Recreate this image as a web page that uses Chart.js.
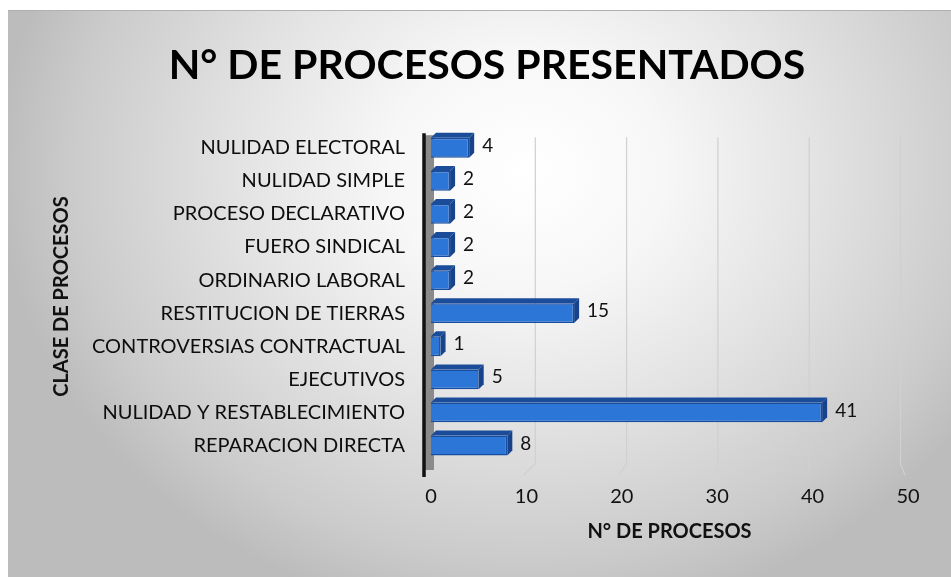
<!DOCTYPE html>
<html>
<head>
<meta charset="utf-8">
<script src="https://cdn.jsdelivr.net/npm/chart.js@4.4.1/dist/chart.umd.min.js"></script>
<style>
  html, body { margin: 0; padding: 0; background: #fff; }
  #marco {
    position: absolute; left: 8px; top: 10px; width: 943px; height: 567px;
    border-top: 1px solid #b0b0b0;
    background: radial-gradient(ellipse 56% 80% at 55% 28%, #ffffff 0%, #f7f7f7 26%, #e2e2e2 56%, #cbcbcb 86%, #bcbcbc 100%);
  }
  canvas { display: block; }
</style>
</head>
<body>
<div id="marco"><canvas id="graficoProcesos" width="943" height="566"></canvas></div>
<script>
const categorias = [
  'NULIDAD ELECTORAL',
  'NULIDAD SIMPLE',
  'PROCESO DECLARATIVO',
  'FUERO SINDICAL',
  'ORDINARIO LABORAL',
  'RESTITUCION DE TIERRAS',
  'CONTROVERSIAS CONTRACTUAL',
  'EJECUTIVOS',
  'NULIDAD Y RESTABLECIMIENTO',
  'REPARACION DIRECTA'
];
const procesos = [4, 2, 2, 2, 2, 15, 1, 5, 41, 8];
const ticksX = [0, 10, 20, 30, 40, 50];

const FUENTE = "Lato, 'Open Sans', sans-serif";
const PROF = 5; // profundidad del efecto 3D

// pared lateral gris, eje vertical negro y rejilla del fondo
const paredPlugin = {
  id: 'pared',
  beforeDatasetsDraw(chart) {
    const { ctx, chartArea: a, scales: { x } } = chart;
    const x0 = x.getPixelForValue(0);
    ctx.save();
    ctx.strokeStyle = '#d0d0d0';
    ctx.lineWidth = 1.2;
    ticksX.slice(1).forEach(v => {
      const frente = x.getPixelForValue(v);
      const fondo = x0 + 13 + (frente - x0) * 0.957;
      ctx.beginPath();
      ctx.moveTo(fondo, a.top + 6);
      ctx.lineTo(fondo, a.bottom + 2);
      ctx.lineTo(frente - 3, a.bottom + 13);
      ctx.stroke();
    });
    ctx.fillStyle = '#8a8a8a';
    ctx.fillRect(x0 - 7, a.top + 4, 10, a.bottom - a.top + 4);
    ctx.strokeStyle = '#111';
    ctx.lineWidth = 3.5;
    ctx.beginPath();
    ctx.moveTo(x0 - 7, a.top + 2);
    ctx.lineTo(x0 - 7, a.bottom + 15);
    ctx.stroke();
    ctx.restore();
  }
};

// caras superior y lateral de cada barra, y su valor
const barras3dPlugin = {
  id: 'barras3d',
  afterDatasetsDraw(chart) {
    const { ctx } = chart;
    const meta = chart.getDatasetMeta(0);
    ctx.save();
    meta.data.forEach((bar, i) => {
      const { x, y, base, height } = bar.getProps(['x', 'y', 'base', 'height'], true);
      const arriba = y - height / 2;
      const abajo = y + height / 2;
      ctx.fillStyle = '#1a4c9a';
      ctx.beginPath();
      ctx.moveTo(base, arriba);
      ctx.lineTo(x, arriba);
      ctx.lineTo(x + PROF, arriba - PROF);
      ctx.lineTo(base + PROF, arriba - PROF);
      ctx.closePath();
      ctx.fill();
      ctx.fillStyle = '#17438c';
      ctx.beginPath();
      ctx.moveTo(x, arriba);
      ctx.lineTo(x + PROF, arriba - PROF);
      ctx.lineTo(x + PROF, abajo - PROF);
      ctx.lineTo(x, abajo);
      ctx.closePath();
      ctx.fill();

      ctx.fillStyle = '#111';
      ctx.font = '19px ' + FUENTE;
      ctx.textAlign = 'left';
      ctx.textBaseline = 'middle';
      ctx.fillText(procesos[i], x + PROF + 8, y - 2);
    });
    ctx.restore();
  }
};

new Chart(document.getElementById('graficoProcesos'), {
  type: 'bar',
  data: {
    labels: categorias,
    datasets: [{
      data: procesos,
      backgroundColor: '#2b76d6',
      borderColor: '#184c9e',
      borderWidth: 1.5,
      barPercentage: 0.6,
      categoryPercentage: 1
    }]
  },
  options: {
    indexAxis: 'y',
    responsive: false,
    animation: false,
    layout: { padding: { left: 15, right: 0, top: 0, bottom: 0 } },
    plugins: {
      legend: { display: false },
      tooltip: { enabled: false },
      title: {
        display: true,
        text: 'N° DE PROCESOS PRESENTADOS',
        color: '#000',
        font: { family: FUENTE, size: 41, weight: 'bold', lineHeight: 1.2 },
        padding: { top: 30, bottom: 41 }
      }
    },
    scales: {
      x: {
        min: 0,
        max: 50,
        afterBuildTicks(s) { s.ticks = ticksX.map(v => ({ value: v })); },
        afterFit(s) { s.height = 115; s.paddingRight = 43; },
        ticks: { color: '#111', font: { family: FUENTE, size: 20 }, padding: 23 },
        grid: { display: false, drawTicks: false },
        border: { display: false },
        title: {
          display: true,
          text: 'N° DE PROCESOS',
          color: '#111',
          font: { family: FUENTE, size: 20, weight: 'bold', lineHeight: 1.2 },
          padding: { top: 0, bottom: 33 }
        }
      },
      y: {
        afterFit(s) { s.width = 408; },
        ticks: { color: '#0d0d0d', font: { family: FUENTE, size: 20 }, padding: 26 },
        grid: { display: false, drawTicks: false },
        border: { display: false },
        title: {
          display: true,
          text: 'CLASE DE PROCESOS',
          color: '#111',
          font: { family: FUENTE, size: 20, weight: 'bold', lineHeight: 1.2 },
          padding: { top: 27, bottom: 0 }
        }
      }
    }
  },
  plugins: [paredPlugin, barras3dPlugin]
});
</script>
</body>
</html>
